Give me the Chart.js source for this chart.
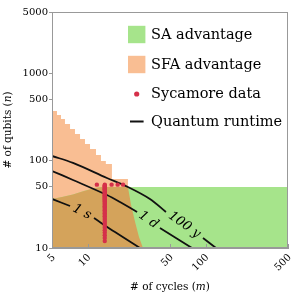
<!DOCTYPE html>
<html><head><meta charset="utf-8">
<script src="https://cdn.jsdelivr.net/npm/chart.js@4/dist/chart.umd.min.js"></script>
<style>html,body{margin:0;padding:0;background:#fff}canvas{display:block}</style>
</head><body>
<canvas id="c" width="299" height="299"></canvas>
<script>
// ---- data ----
const cycleTicks = [5, 10, 50, 100, 500];
const qubitTicks = [10, 50, 100, 500, 1000, 5000];

// SFA advantage region: right boundary (staircase, then curve down to n = 10)
const sfaEdgeM = [5, 5.51, 5.51, 5.96, 5.96, 6.44, 6.44, 7.11, 7.11, 7.83, 7.83, 8.64, 8.64, 9.52, 9.52, 10.5, 10.5, 11.8, 11.8, 13.0, 13.0, 14.3, 14.3, 16.1, 16.1, 22.0, 22.0, 23.4, 25.3, 27.3, 29.5];
const sfaEdgeN = [369, 369, 332, 332, 299, 299, 262, 262, 230, 230, 201, 201, 177, 177, 155, 155, 136, 136, 116, 116, 99, 99, 91.4, 91.4, 61.6, 61.6, 50, 31.0, 19.8, 13.4, 10];

// SA advantage region: top boundary
const saEdgeM = [5, 6.08, 7.53, 9.33, 11.6, 13.3, 500];
const saEdgeN = [36.4, 38.3, 40.9, 44.9, 48.6, 50, 50];

// Quantum runtime contours
const rtLabels = ['1 s', '1 d', '100 y'];
const rt1sM = [5, 7.11, 11.35, 17.1, 27.8];
const rt1sN = [36.4, 30.2, 22.0, 15.2, 10];
const rt1dM = [5, 7.53, 14.6, 18.85, 26.3, 41.1, 76.8];
const rt1dN = [76.0, 60.0, 40.4, 33.6, 25.8, 16.9, 10];
const rt100yM = [5, 7.53, 14.6, 22.0, 33.8, 46.2, 95.2, 122.7];
const rt100yN = [112.9, 93.9, 63.2, 49.9, 36.4, 25.8, 13.0, 10];
const rtGapAfter = [1, 4, 5];

// Sycamore data
const sycColumnM = 14;
const sycColumnN = [12,13,14,15,16,17,18,19,20,21,22,23,24,25,26,27,28,29,30,31,32,33,34,35,36,37,38,39,40,41,42,43,44,45,46,47,48,49,50,51,52,53];
const sycRowM = [12, 16, 18, 20];
const sycRowN = 53;

// ---- build ----
const corner = {x: cycleTicks[0], y: qubitTicks[0]};
const pts = (ms, ns) => ms.map((m, i) => ({x: m, y: ns[i]}));
function gapped(ms, ns, g) {
  const p = pts(ms, ns);
  p.splice(g + 1, 0, {x: ms[g], y: null});
  return p;
}
const sfaPts = pts(sfaEdgeM, sfaEdgeN);
const saPts = pts(saEdgeM, saEdgeN);
const orangePoly = [corner].concat(sfaPts);
const greenPoly = [corner].concat(saPts, [{x: saEdgeM[saEdgeM.length - 1], y: corner.y}]);
const brownPoly = [corner].concat(saPts.filter(p => p.x < 22), sfaPts.filter(p => p.y <= 50));
const sycPts = sycColumnN.map(n => ({x: sycColumnM, y: n})).concat(sycRowM.map(m => ({x: m, y: sycRowN})));

const FONT = 'DejaVu Serif';
const colors = {orange: '#f9be93', green: '#a6e48b', brown: '#d4a35b', red: '#d5304a', line: '#111111', axis: '#999999'};

function region(data, color, order) {
  return {data, backgroundColor: color, borderColor: 'transparent', borderWidth: 0, pointRadius: 0, fill: 'shape', tension: 0, order};
}
function runtime(ms, ns, g, label) {
  return {data: gapped(ms, ns, g), label, borderColor: colors.line, borderWidth: 1.8, pointRadius: 0, fill: false, tension: 0.35, spanGaps: false, order: 1, rtGap: g};
}

function rotatedText(ctx, text, x, y, ang, align) {
  ctx.save();
  ctx.translate(x, y);
  ctx.rotate(ang);
  ctx.textAlign = align;
  ctx.textBaseline = 'middle';
  ctx.fillText(text, 0, 0);
  ctx.restore();
}

const labelPlugin = {
  id: 'rtlabels',
  afterDatasetsDraw(chart) {
    const ctx = chart.ctx;
    ctx.fillStyle = '#000';
    chart.data.datasets.forEach((ds, i) => {
      if (ds.rtGap === undefined) return;
      const meta = chart.getDatasetMeta(i);
      const a = meta.data[ds.rtGap], b = meta.data[ds.rtGap + 2];
      ctx.font = 'italic 13px "' + FONT + '"';
      rotatedText(ctx, ds.label, (a.x + b.x) / 2, (a.y + b.y) / 2, Math.atan2(b.y - a.y, b.x - a.x), 'center');
    });
    // rotated x tick labels (text centre placed so that its end sits at the tick)
    const xs = chart.scales.x, ca = chart.chartArea;
    const ang = -0.7854;
    ctx.font = '10px "' + FONT + '"';
    cycleTicks.forEach(v => {
      const s = String(v);
      const w = ctx.measureText(s).width;
      const ex = xs.getPixelForValue(v) + 2, ey = ca.bottom + 8;
      const cx = ex - Math.cos(ang) * w / 2, cy = ey - Math.sin(ang) * w / 2;
      rotatedText(ctx, s, cx, cy, ang, 'center');
    });
  }
};

function drawMixed(ctx, parts, size, cx, cy) {
  let w = 0;
  parts.forEach(p => { ctx.font = (p[1] ? 'italic ' : '') + size + 'px "' + FONT + '"'; p.w = ctx.measureText(p[0]).width; w += p.w; });
  let x = cx - w / 2;
  ctx.textAlign = 'left';
  ctx.textBaseline = 'middle';
  parts.forEach(p => { ctx.font = (p[1] ? 'italic ' : '') + size + 'px "' + FONT + '"'; ctx.fillText(p[0], x, cy); x += p.w; });
}

const decorPlugin = {
  id: 'decor',
  afterDraw(chart) {
    const ctx = chart.ctx, ca = chart.chartArea;
    ctx.save();
    // frame
    ctx.strokeStyle = colors.axis; ctx.lineWidth = 1;
    ctx.strokeRect(ca.left + 0.5, ca.top + 0.5, ca.right - ca.left - 1, ca.bottom - ca.top - 1);
    // inner x ticks
    const xs = chart.scales.x;
    ctx.beginPath();
    cycleTicks.forEach(v => { const px = Math.round(xs.getPixelForValue(v)) + 0.5; ctx.moveTo(px, ca.bottom); ctx.lineTo(px, ca.bottom - 4); });
    ctx.stroke();
    ctx.fillStyle = '#000';
    // axis titles
    drawMixed(ctx, [['# of cycles ('], ['m', true], [')']], 10.5, (ca.left + ca.right) / 2, 287);
    ctx.save();
    ctx.translate(8, (ca.top + ca.bottom) / 2);
    ctx.rotate(-Math.PI / 2);
    drawMixed(ctx, [['# of qubits ('], ['n', true], [')']], 10.5, 0, 0);
    ctx.restore();
    // legend
    const lx = 128, tx = 151;
    const rows = [34.5, 64.5, 94, 121.5];
    ctx.fillStyle = colors.green; ctx.fillRect(lx, rows[0] - 8.7, 17.4, 17.4);
    ctx.fillStyle = colors.orange; ctx.fillRect(lx, rows[1] - 8.7, 17.4, 17.4);
    ctx.fillStyle = colors.red; ctx.beginPath(); ctx.arc(lx + 8.7, rows[2], 2.6, 0, Math.PI * 2); ctx.fill();
    ctx.strokeStyle = colors.line; ctx.lineWidth = 2; ctx.beginPath(); ctx.moveTo(lx + 2, rows[3]); ctx.lineTo(lx + 15.6, rows[3]); ctx.stroke();
    const names = ['SA advantage', 'SFA advantage', 'Sycamore data', 'Quantum runtime'];
    ctx.fillStyle = '#000'; ctx.font = '14.5px "' + FONT + '"'; ctx.textAlign = 'left'; ctx.textBaseline = 'middle';
    names.forEach((t, i) => ctx.fillText(t, tx, rows[i] + 0.5));
    ctx.restore();
  }
};

const tickFont = {family: FONT, size: 10};
new Chart(document.getElementById('c'), {
  type: 'line',
  data: {
    datasets: [
      {data: sycPts, showLine: false, pointRadius: 2.2, pointBackgroundColor: colors.red, pointBorderWidth: 0, order: 0},
      runtime(rt1sM, rt1sN, rtGapAfter[0], rtLabels[0]),
      runtime(rt1dM, rt1dN, rtGapAfter[1], rtLabels[1]),
      runtime(rt100yM, rt100yN, rtGapAfter[2], rtLabels[2]),
      region(brownPoly, colors.brown, 2),
      region(greenPoly, colors.green, 3),
      region(orangePoly, colors.orange, 4)
    ]
  },
  options: {
    responsive: false, animation: false, events: [],
    layout: {padding: {left: 0, right: 11, top: 12, bottom: 0}},
    plugins: {legend: {display: false}, tooltip: {enabled: false}},
    scales: {
      x: {
        type: 'logarithmic', min: cycleTicks[0], max: cycleTicks[cycleTicks.length - 1],
        afterBuildTicks: s => { s.ticks = cycleTicks.map(v => ({value: v})); },
        afterFit: s => { s.height = 51; },
        ticks: {display: false},
        grid: {display: true, drawOnChartArea: false, drawTicks: false, color: colors.axis},
        border: {display: true, color: colors.axis}
      },
      y: {
        type: 'logarithmic', min: qubitTicks[0], max: qubitTicks[qubitTicks.length - 1],
        afterBuildTicks: s => { s.ticks = qubitTicks.map(v => ({value: v})); },
        afterFit: s => { s.width = 52; },
        ticks: {autoSkip: false, font: tickFont, color: '#000', padding: 1, callback: v => String(v)},
        grid: {display: true, drawOnChartArea: false, drawTicks: true, tickLength: 3, color: colors.axis},
        border: {display: true, color: colors.axis}
      }
    }
  },
  plugins: [labelPlugin, decorPlugin]
});
</script>
</body></html>
